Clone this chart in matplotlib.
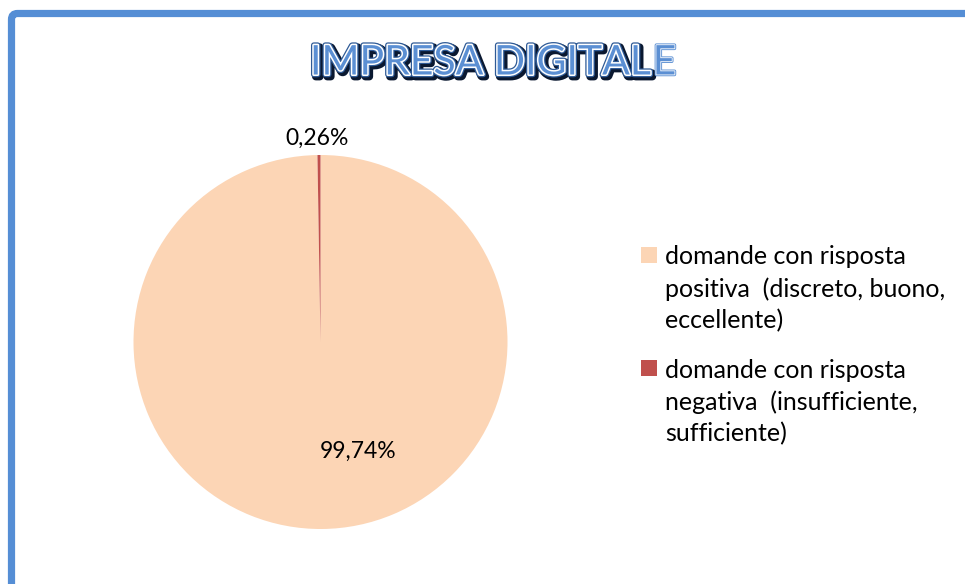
import matplotlib
matplotlib.use("Agg")
import matplotlib.pyplot as plt
import matplotlib.patheffects as pe
from matplotlib.patches import FancyBboxPatch, Rectangle

title = "IMPRESA DIGITALE"
categories = ["domande con risposta\npositiva  (discreto, buono,\neccellente)",
              "domande con risposta\nnegativa  (insufficiente,\nsufficiente)"]
values = [99.74, 0.26]
value_labels = ["99,74%", "0,26%"]
colors = ["#FCD5B5", "#C0504D"]

plt.rcParams['font.family'] = ['Lato', 'DejaVu Sans']

W, H = 965, 584
fig = plt.figure(figsize=(W / 100, H / 100), dpi=100)
fig.patch.set_facecolor("white")

# border frame (top-left corner visible)
border = FancyBboxPatch((0.115, -1.0), 12.0, 5.705 + 1.0,
                        boxstyle="round,pad=0,rounding_size=0.06",
                        transform=fig.dpi_scale_trans, fill=False,
                        edgecolor="#558ED5", linewidth=5.2, zorder=0)
fig.patches.append(border)

# pie axes: centre (320.5, 342) px, radius 187 px
r = 187.0
cx, cy = 320.5, 342.0
half = 1.2 * r
ax = fig.add_axes([(cx - half) / W, (H - cy - half) / H, 2 * half / W, 2 * half / H])
wedges, _ = ax.pie(values, colors=colors, startangle=90, counterclock=False,
                   radius=1.0, wedgeprops=dict(linewidth=0))
ax.set_xlim(-1.2, 1.2)
ax.set_ylim(-1.2, 1.2)
ax.set_aspect("equal")
ax.axis("off")

ax.text(0.20, -0.585, value_labels[0], ha="center", va="center", fontsize=16.5, color="black")
ax.text(-0.02, 1.09, value_labels[1], ha="center", va="center", fontsize=16.5, color="black")

# legend (drawn manually: square aligned with first line of each entry)
entry_tops = [255, 368]   # first-line centre, px from top
line_step = 32
for cat, col, y0 in zip(categories, colors, entry_tops):
    fig.patches.append(Rectangle((641 / W, 1 - (y0 + 8) / H), 16 / W, 16 / H,
                                 transform=fig.transFigure, facecolor=col,
                                 edgecolor="none"))
    for i, line in enumerate(cat.split("\n")):
        fig.text(665 / W, 1 - (y0 + i * line_step) / H, line, ha="left",
                 va="center_baseline", fontsize=18, color="black")

# title
effects = [pe.Stroke(linewidth=5.5, foreground="#0A1830", offset=(1.5, -1.5)),
           pe.Stroke(linewidth=4, foreground="#2E5A96"),
           pe.Stroke(linewidth=2.2, foreground="white"),
           pe.Normal()]
t1 = fig.text(310 / W, 1 - 63 / H, title[:-1], ha="left", va="center",
              fontsize=29.5, color="#5B8FD3", path_effects=effects)
fig.canvas.draw()
bb = t1.get_window_extent()
effects2 = [pe.Stroke(linewidth=2.5, foreground="#5B8FD3"),
            pe.Stroke(linewidth=1.2, foreground="white"),
            pe.Normal()]
fig.text((bb.x1 + 1) / W, 1 - 63 / H, title[-1], ha="left", va="center",
         fontsize=29.5, color="#5B8FD3", path_effects=effects2)

fig.savefig("out.png", dpi=100, facecolor="white")
